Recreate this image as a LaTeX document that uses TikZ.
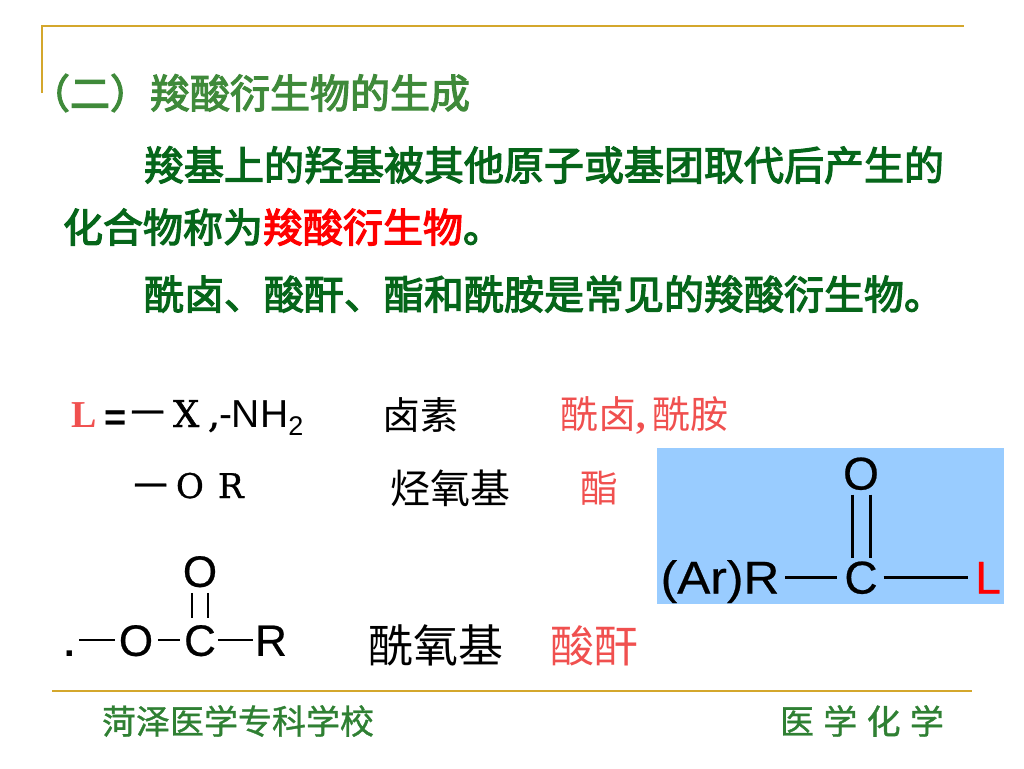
\documentclass[tikz,border=0pt]{standalone}
\usepackage{fontspec}
\setmainfont{Liberation Serif}
\setsansfont[FakeBold=0.5]{Liberation Sans}
\newfontfamily\cjk{Noto Sans CJK SC}
\newfontfamily\cjkheavy[FakeBold=3]{Noto Sans CJK SC}
\newfontfamily\cjkfoot[FakeBold=1]{Noto Sans CJK SC}
\newfontfamily\slab[FakeBold=1]{DejaVu Serif}
\newfontfamily\plainsans{Liberation Sans}
\usetikzlibrary{positioning}
\definecolor{rulegold}{HTML}{D4A72C}
\definecolor{titlegreen}{HTML}{3F8A3A}
\definecolor{bodygreen}{HTML}{06661A}
\definecolor{footgreen}{HTML}{2F8033}
\definecolor{softred}{HTML}{F0504F}
\definecolor{panelblue}{HTML}{99CCFF}
\newcommand{\fs}[1]{\fontsize{#1}{#1}\selectfont}
\tikzset{
  every node/.style={inner sep=0pt, outer sep=0pt},
  goldrule/.style={draw=rulegold, line width=2pt},
  titletext/.style={anchor=west, text=titlegreen, font=\cjkheavy\fs{40}},
  bodytext/.style={anchor=west, text=bodygreen, font=\cjkheavy\fs{40}},
  foottext/.style={anchor=west, text=footgreen, font=\cjkfoot\fs{34}},
  cntext/.style={anchor=west, text=black, font=\cjk\fs{#1}},
  redtext/.style={anchor=west, text=softred, font=\cjk\fs{#1}},
  atom/.style={text=black, font=\sffamily\fs{#1}, text height=0.72*#1 pt, text depth=0pt},
  bond/.style={draw=black, line width=2.8pt},
  bigbond/.style={draw=black, line width=3pt},
}
\begin{document}
\begin{tikzpicture}[x=1pt,y=-1pt]
\useasboundingbox (0,0) rectangle (1024,768);
\draw[goldrule] (42,93) -- (42,26) -- (964,26);
\draw[goldrule] (52,691) -- (972,691);

\node[titletext] (title) at (30,93) {（二）羧酸衍生物的生成};
\node[bodytext] (lineA) at (144,165) {羧基上的羟基被其他原子或基团取代后产生的};
\node[bodytext] (lineB) at (63,227) {化合物称为\textcolor{red}{羧酸衍生物}。};
\node[bodytext] (lineC) at (144,294) {酰卤、酸酐、酯和酰胺是常见的羧酸衍生物。};

\node[anchor=base west, text=softred, font=\bfseries\fs{38}] (ell) at (71,427) {L};
\node[anchor=base west, font=\plainsans\bfseries\fs{38}] (eq) at (104,430) {=};
\node[anchor=center, font=\cjkfoot\fs{34}] (dashX) at (147.5,418) {一};
\node[anchor=base west, font=\slab\fs{37}] (halo) at (173,427) {X};
\node[anchor=base west, font=\slab\fs{38}] (comma) at (208,427) {,};
\node[anchor=base west, font=\plainsans\fs{39}] (amino) at (219,427) {-NH\raisebox{-0.22em}{\fs{27}2}};
\node[cntext=38] (halogen) at (382,415) {卤素};
\node[redtext=38] (acyl) at (560,415) {酰卤\textbf{\rmfamily\fs{38},}\hspace{6.5pt}酰胺};

\node[anchor=center, font=\cjkfoot\fs{34}] (dashO) at (150.5,491) {一};
\node[anchor=base west, font=\slab\fs{34}] (alkO) at (176,498) {O};
\node[anchor=base west, font=\slab\fs{34}] (alkR) at (218,498) {R};
\node[cntext=40] (alkoxy) at (390,488) {烃氧基};
\node[redtext=38] (ester) at (580,488) {酯};

\node[atom=44] (oxyA) at (200,571) {O};
\node[atom=44] (carbA) at (200,640) {C};
\node[atom=44] (bridge) at (136,640) {O};
\node[atom=44] (rA) at (271,640) {R};
\node[anchor=base west, font=\plainsans\bfseries\fs{38}] (dot) at (64,656) {.};
\coordinate (dotEnd) at (79,640);
\draw[bond, shorten >=4pt] (dotEnd) -- (bridge.west);
\draw[bond, shorten <=5pt, shorten >=4pt] (bridge.east) -- (carbA.west);
\draw[bond, shorten <=2pt, shorten >=2pt] (carbA.east) -- (rA.west);
\draw[bond, shorten <=6pt, shorten >=6pt] ([xshift=-8pt]oxyA.south) -- ([xshift=-8pt]carbA.north);
\draw[bond, shorten <=6pt, shorten >=6pt] ([xshift=8pt]oxyA.south) -- ([xshift=8pt]carbA.north);
\node[cntext=45] (acyloxy) at (368,645) {酰氧基};
\node[redtext=44] (anhyd) at (550,646) {酸酐};

\fill[panelblue] (657,448) rectangle (1004,604);
\node[atom=46] (oxyB) at (861,473) {O};
\node[atom=46] (carbB) at (861,577) {C};
\node[atom=46, xscale=1.08] (rB) at (720,577) {(Ar)R};
\node[atom=46, text=red] (leave) at (988,577) {L};
\draw[bigbond, shorten <=6pt, shorten >=7pt] (rB.east) -- (carbB.west);
\draw[bigbond, shorten <=6pt, shorten >=7pt] (carbB.east) -- (leave.west);
\draw[bigbond, shorten <=5pt, shorten >=2pt] ([xshift=-9pt]oxyB.south) -- ([xshift=-9pt]carbB.north);
\draw[bigbond, shorten <=5pt, shorten >=2pt] ([xshift=9pt]oxyB.south) -- ([xshift=9pt]carbB.north);

\node[foottext] (school) at (102,721) {菏泽医学专科学校};
\node[foottext] (course) at (780,721) {医\hspace{9.3pt}学\hspace{9.3pt}化\hspace{9.3pt}学};
\end{tikzpicture}
\end{document}
